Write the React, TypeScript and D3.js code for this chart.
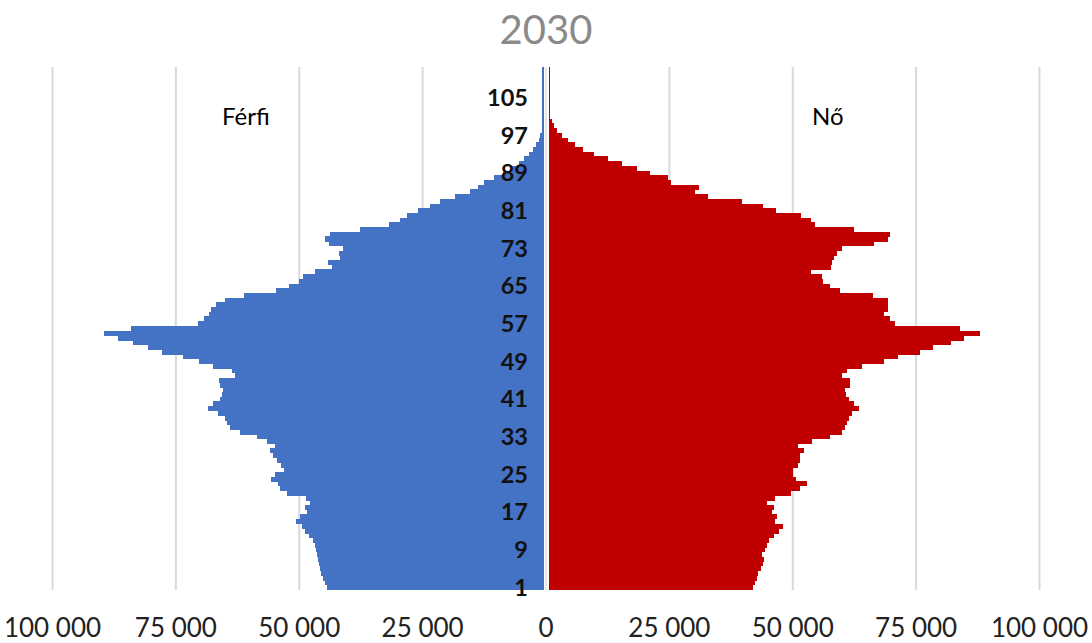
import React from "react";
import * as d3 from "d3";

// Ages shown as categories (1 = bottom bar)
const ages: number[] = d3.range(1, 112);

// Male population by age (Férfi), ages 1..111
const male: number[] = [
  44400, 44800, 45200, 45500, 45700, 46000, 46200, 46500, 46700, 46900,
  47300, 48000, 48800, 49500, 50700, 49800, 48500, 48800, 47800, 48600,
  52500, 53900, 54300, 55800, 54900, 53100, 53600, 54500, 55300, 55900,
  54900, 56600, 58600, 62000, 64000, 64700, 65000, 66500, 68500, 67500,
  66100, 65700, 65500, 66000, 66200, 63000, 63700, 67400, 70400, 73500,
  77900, 80600, 83600, 86700, 89500, 84000, 70500, 69400, 68200, 67800,
  66800, 65000, 61200, 54700, 52000, 50000, 49200, 46800, 43400, 44100,
  41700, 41900, 41100, 43900, 44800, 43800, 37700, 31800, 29600, 28200,
  26000, 23500, 21500, 18500, 15500, 13800, 12500, 10500, 8800, 7000,
  5500, 4500, 3500, 2700, 2000, 1500, 1150, 900, 700, 550,
  450, 350, 300, 250, 200, 150, 120, 100, 80, 50, 50,
];

// Female population by age (Nő), ages 1..111
const female: number[] = [
  42000, 42400, 42700, 43000, 43500, 43900, 44100, 43800, 44400, 44700,
  45100, 46100, 47300, 48000, 46400, 46900, 45700, 46100, 44700, 46400,
  49600, 51500, 52800, 50700, 50000, 50100, 51100, 51400, 51500, 52200,
  51000, 53900, 57600, 59900, 60500, 61000, 61300, 62000, 63500, 62500,
  61300, 60800, 60600, 61600, 61600, 59900, 60900, 64000, 68400, 71400,
  75800, 78500, 82000, 84600, 88000, 83900, 70700, 69700, 68500, 69200,
  69400, 69400, 66200, 59600, 57600, 56200, 55900, 53600, 57700, 57900,
  58300, 58900, 60000, 66400, 69200, 69700, 62400, 54500, 53700, 51700,
  46700, 44000, 39800, 32900, 30100, 31000, 25400, 24700, 21000, 18500,
  15500, 12500, 9800, 7400, 5800, 4500, 3200, 2200, 1600, 1200,
  900, 600, 450, 350, 250, 200, 150, 100, 80, 50, 50,
];

// Axis ticks
const xTicks: number[] = [-100000, -75000, -50000, -25000, 0, 25000, 50000, 75000, 100000];
const ageLabelStep = 8;

const title = "2030";
const maleLabel = "Férfi";
const femaleLabel = "Nő";

const W = 1092;
const H = 643;
const FONT = "Lato, 'Open Sans', 'DejaVu Sans', sans-serif";
const BLUE = "#4472C4";
const RED = "#C00000";
const GRID = "#d9d9d9";

const fmt = (v: number) => {
  const a = Math.abs(v);
  return d3.format(",")(a).replace(/,/g, " ");
};

export default function App() {
  const x = d3.scaleLinear().domain([-100000, 100000]).range([52.5, 1039.5]);
  const y = d3.scaleBand<number>().domain(ages).range([589.5, 67]).padding(0);
  const bw = y.bandwidth();
  const x0 = x(0);
  const gap = 2.5;
  const top = 67;
  const bottom = 590;

  return (
    <svg
      width={W}
      height={H}
      style={{ position: "absolute", left: 0, top: 0, background: "#fff" }}
      fontFamily={FONT}
    >
      <rect x={0} y={0} width={W} height={H} fill="#fff" />
      <text x={546} y={44} textAnchor="middle" fontSize={40} fill="#8a8a8a">
        {title}
      </text>

      {/* gridlines */}
      {xTicks.map((t) => (
        <line
          key={"g" + t}
          x1={x(t)}
          x2={x(t)}
          y1={top}
          y2={bottom}
          stroke={GRID}
          strokeWidth={t === 0 ? 1.3 : 2}
        />
      ))}

      {/* male bars */}
      <g shapeRendering="crispEdges">
        {ages.map((a, i) => {
          const xl = x(-male[i]);
          const w = Math.max(1.2, x0 - gap - xl);
          return (
            <rect
              key={"m" + a}
              x={x0 - gap - w}
              y={y(a)!}
              width={w}
              height={bw + 0.5}
              fill={BLUE}
            />
          );
        })}
      </g>

      {/* female bars */}
      <g shapeRendering="crispEdges">
        {ages.map((a, i) => {
          const w = Math.max(1.2, x(female[i]) - x0 - gap);
          return (
            <rect
              key={"f" + a}
              x={x0 + gap}
              y={y(a)!}
              width={w}
              height={bw + 0.5}
              fill={RED}
            />
          );
        })}
      </g>

      {/* age labels */}
      {ages
        .filter((a) => (a - 1) % ageLabelStep === 0)
        .map((a) => (
          <text
            key={"a" + a}
            x={528}
            y={y(a)! + bw / 2 + 8.5}
            textAnchor="end"
            fontSize={23.5}
            fontWeight="bold"
            fill="#111"
          >
            {a}
          </text>
        ))}

      {/* x axis labels */}
      {xTicks.map((t) => (
        <text
          key={"t" + t}
          x={x(t)}
          y={637}
          textAnchor="middle"
          fontSize={26}
          fill="#222"
        >
          {fmt(t)}
        </text>
      ))}

      <text x={222} y={125} fontSize={24} fill="#000">
        {maleLabel}
      </text>
      <text x={812} y={125} fontSize={24} fill="#000">
        {femaleLabel}
      </text>
    </svg>
  );
}
